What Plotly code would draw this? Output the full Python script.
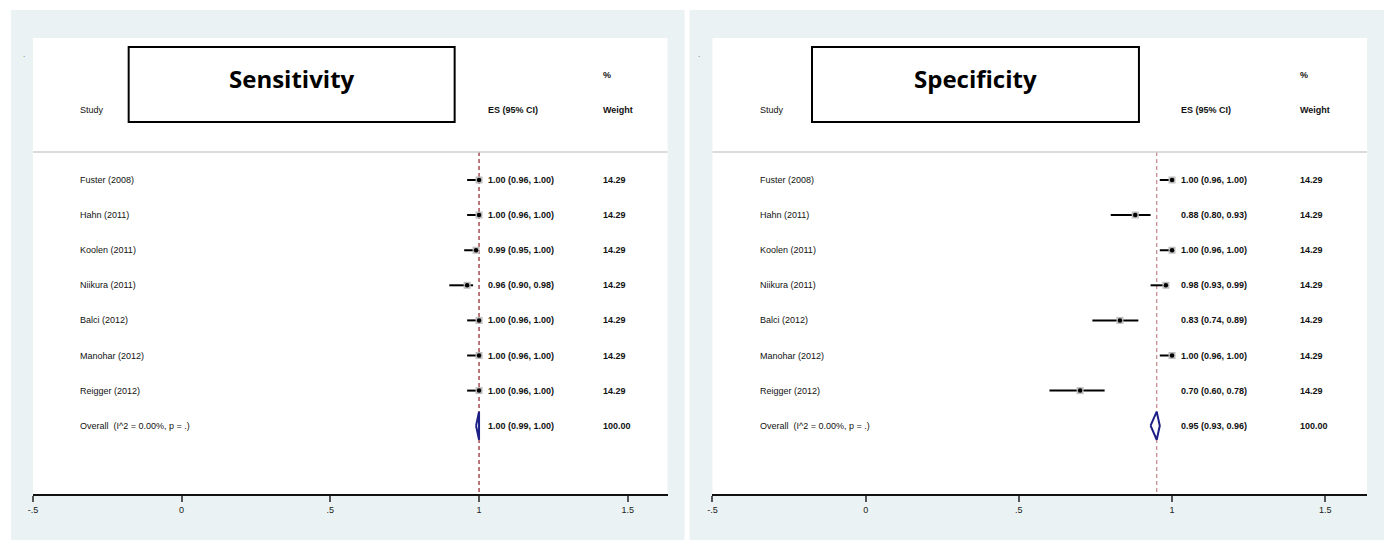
import plotly.graph_objects as go

# ---- data -------------------------------------------------------------
studies = ["Fuster (2008)", "Hahn (2011)", "Koolen (2011)", "Niikura (2011)",
           "Balci (2012)", "Manohar (2012)", "Reigger (2012)"]
weights = [14.29, 14.29, 14.29, 14.29, 14.29, 14.29, 14.29]

sens_es = [1.00, 1.00, 0.99, 0.96, 1.00, 1.00, 1.00]
sens_lo = [0.96, 0.96, 0.95, 0.90, 0.96, 0.96, 0.96]
sens_hi = [1.00, 1.00, 1.00, 0.98, 1.00, 1.00, 1.00]
sens_overall = (1.00, 0.99, 1.00)   # ES, lower, upper

spec_es = [1.00, 0.88, 1.00, 0.98, 0.83, 1.00, 0.70]
spec_lo = [0.96, 0.80, 0.96, 0.93, 0.74, 0.96, 0.60]
spec_hi = [1.00, 0.93, 1.00, 0.99, 0.89, 1.00, 0.78]
spec_overall = (0.95, 0.93, 0.96)

overall_label = "Overall\u00a0\u00a0(I^2 = 0.00%, p = .)"
overall_weight = 100.00
tick_vals = [-0.5, 0, 0.5, 1, 1.5]
tick_text = ["-.5", "0", ".5", "1", "1.5"]

# ---- geometry (pixels) ------------------------------------------------
W, H = 1390, 545
BG = "#eaf2f3"
NAVY = "#1b1f86"
FONT = "Liberation Sans, Arial, sans-serif"

ROW0_PX, ROW_STEP = 180.0, 35.1        # first study row and row spacing
PLOT_TOP, PLOT_BOT = 38, 494
r_top = 1 + (PLOT_TOP - ROW0_PX) / ROW_STEP
r_bot = 1 + (PLOT_BOT - ROW0_PX) / ROW_STEP


def px_x(p):
    return p / W


def px_y(p):
    return 1 - p / H


panels = [
    dict(title="Sensitivity", es=sens_es, lo=sens_lo, hi=sens_hi, ov=sens_overall,
         bg=(6, 10, 682, 540), plot=(28, 665), x0px=28, scale=298.5,
         box=(-0.178, 0.918), dash_color="#8e1f26", xa="x", ya="y"),
    dict(title="Specificity", es=spec_es, lo=spec_lo, hi=spec_hi, ov=spec_overall,
         bg=(687, 10, 1384, 540), plot=(710, 1367), x0px=710, scale=307.5,
         box=(-0.175, 0.892), dash_color="#c4848b", xa="x2", ya="y2"),
]

fig = go.Figure()
shapes = []
annotations = []

rows = list(range(1, len(studies) + 1))
overall_row = len(studies) + 1

STUDY_X, ES_X, WT_X = -0.35, 1.024, 1.41
HEAD_ROW, PCT_ROW, SEP_ROW = -1.0, -2.0, 0.2
BOX_Y0, BOX_Y1, TITLE_ROW = -2.79, -0.652, -1.90
DIAMOND_H = 0.40

for k, p in enumerate(panels):
    xa, ya = p["xa"], p["ya"]
    # grey graph region and white plot region
    bx0, by0, bx1, by1 = p["bg"]
    shapes.append(dict(type="rect", xref="paper", yref="paper", layer="below",
                       x0=px_x(bx0), x1=px_x(bx1), y0=px_y(by1), y1=px_y(by0),
                       fillcolor=BG, line=dict(width=0)))
    shapes.append(dict(type="rect", xref="paper", yref="paper", layer="below",
                       x0=px_x(p["plot"][0]), x1=px_x(p["plot"][1]),
                       y0=px_y(PLOT_BOT), y1=px_y(PLOT_TOP),
                       fillcolor="white", line=dict(width=0)))
    # small dot in the graph region corner
    annotations.append(dict(xref="paper", yref="paper", x=px_x(bx0 + 10), y=px_y(48),
                            text=".", showarrow=False, font=dict(size=8, color="#555", family=FONT)))

    # header separator
    shapes.append(dict(type="line", xref=xa + " domain", yref=ya, x0=0, x1=1,
                       y0=SEP_ROW, y1=SEP_ROW, line=dict(color="#cfcfcf", width=1.5)))

    # title box
    shapes.append(dict(type="rect", xref=xa, yref=ya, x0=p["box"][0], x1=p["box"][1],
                       y0=BOX_Y0, y1=BOX_Y1, line=dict(color="black", width=2),
                       fillcolor="white"))
    annotations.append(dict(xref=xa, yref=ya, x=(p["box"][0] + p["box"][1]) / 2, y=TITLE_ROW,
                            text="<b>" + p["title"] + "</b>", showarrow=False,
                            xanchor="center", yanchor="middle",
                            font=dict(family="Open Sans, sans-serif", size=24, color="black")))

    # column headers
    for txt, x, y, bold in [("Study", STUDY_X, HEAD_ROW, False),
                            ("ES (95% CI)", ES_X, HEAD_ROW, True),
                            ("%", WT_X, PCT_ROW, True),
                            ("Weight", WT_X, HEAD_ROW, True)]:
        annotations.append(dict(xref=xa, yref=ya, x=x, y=y, showarrow=False,
                                text=txt, xanchor="left", yanchor="middle",
                                font=dict(family=FONT, size=9, color="#111",
                                          weight="bold" if bold else "normal")))

    # line of overall estimate
    ov_es, ov_lo, ov_hi = p["ov"]
    fig.add_trace(go.Scatter(x=[ov_es, ov_es], y=[SEP_ROW, r_bot], mode="lines",
                             line=dict(color=p["dash_color"], width=1.2, dash="4px,3px"),
                             xaxis=xa, yaxis=ya, hoverinfo="skip", showlegend=False))

    # study estimates with CIs
    plus = [h - e for e, h in zip(p["es"], p["hi"])]
    minus = [e - l for e, l in zip(p["es"], p["lo"])]
    fig.add_trace(go.Scatter(x=p["es"], y=rows, mode="markers",
                             marker=dict(symbol="square", size=7, color="#bdbdbd"),
                             error_x=dict(type="data", symmetric=False, array=plus,
                                          arrayminus=minus, width=0, thickness=2,
                                          color="black"),
                             xaxis=xa, yaxis=ya, showlegend=False))
    fig.add_trace(go.Scatter(x=p["es"], y=rows, mode="markers",
                             marker=dict(symbol="circle", size=4.5, color="black"),
                             xaxis=xa, yaxis=ya, showlegend=False))

    # pooled diamond
    fig.add_trace(go.Scatter(x=[ov_lo, ov_es, ov_hi, ov_es, ov_lo],
                             y=[overall_row, overall_row - DIAMOND_H, overall_row,
                                overall_row + DIAMOND_H, overall_row],
                             mode="lines", line=dict(color=NAVY, width=2),
                             fill="toself", fillcolor="white",
                             xaxis=xa, yaxis=ya, showlegend=False))

    # row texts
    for r, name, e, l, h, w in zip(rows, studies, p["es"], p["lo"], p["hi"], weights):
        annotations.append(dict(xref=xa, yref=ya, x=STUDY_X, y=r, text=name, showarrow=False,
                                xanchor="left", yanchor="middle",
                                font=dict(family=FONT, size=9, color="#111")))
        annotations.append(dict(xref=xa, yref=ya, x=ES_X, y=r,
                                text=f"{e:.2f} ({l:.2f}, {h:.2f})", showarrow=False,
                                xanchor="left", yanchor="middle",
                                font=dict(family=FONT, size=9, color="#111", weight="bold")))
        annotations.append(dict(xref=xa, yref=ya, x=WT_X, y=r, text=f"{w:.2f}",
                                showarrow=False, xanchor="left", yanchor="middle",
                                font=dict(family=FONT, size=9, color="#111", weight="bold")))
    annotations.append(dict(xref=xa, yref=ya, x=STUDY_X, y=overall_row, text=overall_label,
                            showarrow=False, xanchor="left", yanchor="middle",
                            font=dict(family=FONT, size=9, color="#111")))
    annotations.append(dict(xref=xa, yref=ya, x=ES_X, y=overall_row,
                            text=f"{ov_es:.2f} ({ov_lo:.2f}, {ov_hi:.2f})", showarrow=False,
                            xanchor="left", yanchor="middle",
                            font=dict(family=FONT, size=9, color="#111", weight="bold")))
    annotations.append(dict(xref=xa, yref=ya, x=WT_X, y=overall_row,
                            text=f"{overall_weight:.2f}", showarrow=False,
                            xanchor="left", yanchor="middle",
                            font=dict(family=FONT, size=9, color="#111", weight="bold")))

    # axes
    x_lo, x_hi = p["plot"]
    x_max = -0.5 + (x_hi - p["x0px"]) / p["scale"]
    axis_name = "xaxis" if k == 0 else "xaxis2"
    yaxis_name = "yaxis" if k == 0 else "yaxis2"
    fig.update_layout(**{
        axis_name: dict(domain=[px_x(x_lo), px_x(x_hi)], range=[-0.5, x_max],
                        anchor=ya, showgrid=False, zeroline=False,
                        showline=True, linecolor="#111", linewidth=2,
                        ticks="outside", ticklen=6, tickwidth=2, tickcolor="#555",
                        tickvals=tick_vals, ticktext=tick_text,
                        tickfont=dict(family=FONT, size=9, color="#222")),
        yaxis_name: dict(domain=[px_y(PLOT_BOT), px_y(PLOT_TOP)], range=[r_bot, r_top],
                         anchor=xa, visible=False, showgrid=False, zeroline=False),
    })

fig.update_layout(
    width=W, height=H, margin=dict(l=0, r=0, t=0, b=0),
    paper_bgcolor="white", plot_bgcolor="rgba(0,0,0,0)",
    shapes=shapes, annotations=annotations, showlegend=False,
)

fig.write_html("out.html")
